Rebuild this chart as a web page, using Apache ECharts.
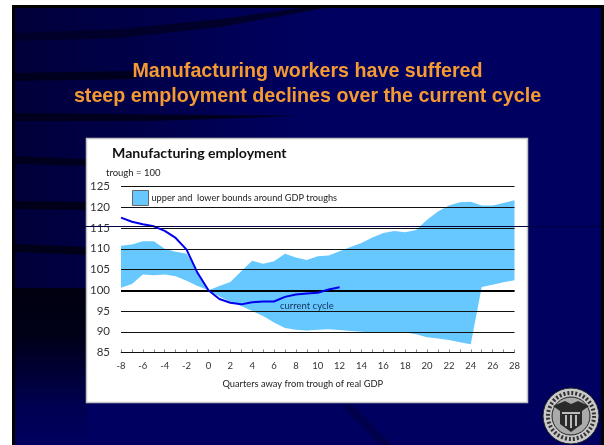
<!DOCTYPE html>
<html lang="en">
<head>
<meta charset="UTF-8">
<title>Manufacturing employment</title>
<script src="https://cdn.jsdelivr.net/npm/echarts@6/dist/echarts.min.js"></script>
<style>
html,body{margin:0;padding:0;background:#fff;}
#main{width:604px;height:445px;}
</style>
</head>
<body>
<div id="main"></div>
<script>
// quarters away from trough
var quarters = [-8,-7,-6,-5,-4,-3,-2,-1,0,1,2,3,4,5,6,7,8,9,10,11,12,13,14,15,16,17,18,19,20,21,22,23,24,25,26,27,28];
var upperBound = [110.7,111,111.8,111.8,110,109.3,108.8,104.5,100,101,102,104.6,107.1,106.4,107,108.8,107.9,107.3,108.2,108.4,109.4,110.4,111.4,112.7,113.8,114.3,114,114.5,117,119,120.4,121.2,121.3,120.4,120.4,121,121.7];
var lowerBound = [100.6,101.5,103.8,103.6,103.8,103.4,102.3,101,100,98.5,97.2,96.2,95,93.8,92.2,90.9,90.5,90.3,90.5,90.6,90.4,90.2,90,89.8,89.8,89.8,89.8,89.4,88.7,88.4,88,87.5,87,100.8,101.3,101.9,102.4];
var currentCycle = [117.5,116.5,115.9,115.4,114.3,112.6,109.8,104.2,100,97.9,97,96.6,97.1,97.3,97.3,98.4,99,99.2,99.4,100.2,100.7];

var boundsName = 'upper and  lower bounds around GDP troughs';
var bandWidth = upperBound.map(function (v, i) { return +(v - lowerBound[i]).toFixed(1); });

var myChart = echarts.init(document.getElementById('main'), null, {renderer: 'canvas'});

var option = {
    animation: false,
    backgroundColor: '#fff',
    textStyle: {fontFamily: 'Lato'},
    title: [
        {
            text: 'Manufacturing workers have suffered\nsteep employment declines over the current cycle',
            left: 302.5, top: 54, textAlign: 'center',
            textStyle: {color: '#f59a32', fontFamily: 'Liberation Sans', fontWeight: 'bold', fontSize: 19.7, lineHeight: 25}
        },
        {
            text: 'Manufacturing employment',
            left: 107, top: 141,
            textStyle: {color: '#111', fontFamily: 'Lato', fontWeight: 'bold', fontSize: 14.1}
        },
        {
            text: 'trough = 100',
            left: 101, top: 163,
            textStyle: {color: '#222', fontFamily: 'Lato', fontWeight: 'normal', fontSize: 9.5}
        }
    ],
    legend: {
        left: 132, top: 190,
        padding: 0,
        itemWidth: 16, itemHeight: 15, itemGap: 4,
        data: [{name: boundsName, icon: 'rect', itemStyle: {color: '#66c8ff', borderColor: '#666', borderWidth: 1}}],
        textStyle: {color: '#222', fontFamily: 'Lato', fontSize: 9.2, padding: [0, 0, 0, -2]}
    },
    grid: {left: 121, right: 89.5, top: 186.5, bottom: 92.5, containLabel: false},
    xAxis: {
        type: 'category',
        data: quarters,
        boundaryGap: false,
        name: 'Quarters away from trough of real GDP',
        nameLocation: 'middle',
        nameGap: 27,
        nameTextStyle: {color: '#222', fontFamily: 'Lato', fontSize: 9.3, padding: [0, 30, 0, 0]},
        axisLine: {lineStyle: {color: '#888', width: 1}},
        axisTick: {interval: 0, inside: true, length: 3, lineStyle: {color: '#888'}},
        axisLabel: {interval: 1, color: '#333', fontFamily: 'Lato', fontSize: 9.5, margin: 8},
        splitLine: {show: false}
    },
    yAxis: {
        type: 'value',
        min: 85, max: 125, interval: 5,
        z: 3,
        axisLine: {show: false},
        axisTick: {show: false},
        axisLabel: {color: '#333', fontFamily: 'Lato', fontSize: 11.5, margin: 11},
        splitLine: {show: true, lineStyle: {color: '#111', width: 1}}
    },
    series: [
        {
            name: 'lower',
            type: 'line',
            stack: 'bounds',
            z: 1,
            data: lowerBound,
            showSymbol: false,
            lineStyle: {width: 0},
            areaStyle: {color: 'transparent', opacity: 0}
        },
        {
            name: boundsName,
            type: 'line',
            stack: 'bounds',
            z: 1,
            data: bandWidth,
            showSymbol: false,
            itemStyle: {color: '#66c8ff'},
            lineStyle: {width: 0},
            areaStyle: {color: '#66c8ff', opacity: 1}
        },
        {
            name: 'current cycle',
            type: 'line',
            z: 5,
            data: currentCycle,
            showSymbol: false,
            lineStyle: {color: '#0000ee', width: 2},
            markLine: {
                silent: true,
                symbol: 'none',
                label: {show: false},
                lineStyle: {color: '#000', width: 2, type: 'solid'},
                data: [{yAxis: 100}]
            },
            markPoint: {
                silent: true,
                symbol: 'circle',
                symbolSize: 0,
                label: {show: true, formatter: 'current cycle', position: 'inside', color: '#14345a', fontFamily: 'Lato', fontSize: 9.5},
                data: [{coord: ['9', 96.1]}]
            }
        }
    ],
    graphic: [
        // slide behind the chart
        {type: 'rect', z: -10, shape: {x: 12, y: 5, width: 592, height: 440}, style: {fill: '#000'}},
        {type: 'rect', z: -9, shape: {x: 15, y: 8, width: 586, height: 437}, style: {fill: '#000060'}},
        {type: 'rect', z: -8.5, shape: {x: 15, y: 8, width: 300, height: 280}, style: {fill: new echarts.graphic.LinearGradient(0, 0, 1, 0, [{offset: 0, color: 'rgba(0,0,0,0.4)'}, {offset: 1, color: 'rgba(0,0,0,0)'}])}},
        {type: 'rect', z: -8, shape: {x: 15, y: 288, width: 72, height: 157}, style: {fill: new echarts.graphic.LinearGradient(0, 0, 0, 1, [{offset: 0, color: '#000010'}, {offset: 0.3, color: '#000018'}, {offset: 0.75, color: '#000050'}, {offset: 1, color: '#000060'}])}},
        {type: 'polygon', z: -8, shape: {points: [[15, 33], [120, 29], [220, 19], [300, 8], [325, 8], [220, 27], [120, 38], [15, 41]]}, style: {fill: '#00002a'}},
        {type: 'polygon', z: -8, shape: {points: [[15, 73], [135, 71], [135, 79], [15, 81]]}, style: {fill: '#00001e'}},
        {type: 'polygon', z: -8, shape: {points: [[15, 113], [300, 116], [150, 121], [15, 121]]}, style: {fill: '#00001e'}},
        {type: 'polygon', z: -8, shape: {points: [[15, 156], [87, 159], [87, 166], [15, 164]]}, style: {fill: '#00001e'}},
        {type: 'polygon', z: -8, shape: {points: [[15, 201], [87, 202], [87, 210], [15, 209]]}, style: {fill: '#000018'}},
        {type: 'polygon', z: -8, shape: {points: [[15, 244], [87, 247], [87, 255], [15, 252]]}, style: {fill: '#000018'}},
        {type: 'polygon', z: -8, shape: {points: [[340, 404], [352, 404], [392, 445], [380, 445]]}, style: {fill: '#00004c'}},
        // white panel
        {type: 'rect', z: -5, shape: {x: 86.5, y: 138.5, width: 441, height: 264}, style: {fill: '#fff', stroke: '#c4c4c4', lineWidth: 1.5}},
        // stray rule across the panel
        {type: 'line', z: 20, shape: {x1: 15, y1: 226.5, x2: 601, y2: 226.5}, style: {stroke: '#000040', lineWidth: 1}},
        // seal
        {type: 'circle', z: 10, shape: {cx: 571, cy: 416, r: 28}, style: {fill: '#c8c8c8', stroke: '#222', lineWidth: 1}},
        {type: 'circle', z: 10, shape: {cx: 571, cy: 416, r: 23}, style: {fill: 'none', stroke: '#333', lineWidth: 4, lineDash: [2, 2]}},
        {type: 'circle', z: 10, shape: {cx: 571, cy: 416, r: 19}, style: {fill: '#aaa', stroke: '#222', lineWidth: 1}},
        {type: 'polygon', z: 10, shape: {points: [[553, 406], [565, 401], [571, 404], [578, 401], [589, 406], [582, 411], [582, 424], [571, 432], [560, 424], [560, 411]]}, style: {fill: '#2a2a2a'}},
        {type: 'rect', z: 10, shape: {x: 562, y: 412, width: 18, height: 2}, style: {fill: '#bbb'}},
        {type: 'rect', z: 10, shape: {x: 565, y: 415, width: 2, height: 11}, style: {fill: '#bbb'}},
        {type: 'rect', z: 10, shape: {x: 570, y: 415, width: 2, height: 13}, style: {fill: '#bbb'}},
        {type: 'rect', z: 10, shape: {x: 575, y: 415, width: 2, height: 11}, style: {fill: '#bbb'}}
    ]
};

myChart.setOption(option);
</script>
</body>
</html>
